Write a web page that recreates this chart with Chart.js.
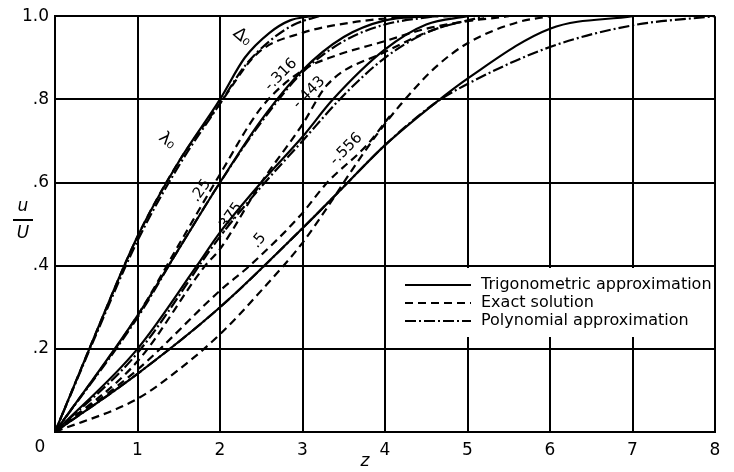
<!DOCTYPE html>
<html>
<head>
<meta charset="utf-8">
<script src="https://cdn.jsdelivr.net/npm/chart.js@4/dist/chart.umd.min.js"></script>
<style>
  html, body { margin: 0; padding: 0; background: #fff; }
  #wrap { width: 734px; height: 472px; }
</style>
</head>
<body>
<div id="wrap"><canvas id="c"></canvas></div>
<script>
// lambda0 = 0
var zTrig0 = [0, 0.5, 1, 1.5, 2, 2.3, 2.6, 2.85, 3.1];
var uTrig0 = [0, 0.24, 0.47, 0.65, 0.8, 0.9, 0.96, 0.99, 1.0];
var zExact0 = [0, 0.5, 1, 1.5, 2, 2.45, 3, 3.6, 4.2, 4.8];
var uExact0 = [0, 0.24, 0.47, 0.65, 0.79, 0.91, 0.96, 0.985, 0.997, 1.0];
var zPoly0 = [0, 0.5, 1, 1.5, 2, 2.3, 2.6, 2.9, 3.2];
var uPoly0 = [0, 0.235, 0.46, 0.64, 0.79, 0.88, 0.94, 0.98, 1.0];

// lambda0 = .25
var zTrig1 = [0, 1, 1.5, 2, 2.5, 3, 3.5, 4, 4.5];
var uTrig1 = [0, 0.28, 0.44, 0.6, 0.75, 0.87, 0.95, 0.99, 1.0];
var zExact1 = [0, 1, 1.5, 2, 2.5, 3, 3.4, 4, 4.5, 5.2];
var uExact1 = [0, 0.28, 0.45, 0.62, 0.78, 0.87, 0.905, 0.94, 0.97, 0.995];
var zPoly1 = [0, 1, 1.5, 2, 2.5, 3, 3.5, 4, 4.6];
var uPoly1 = [0, 0.275, 0.44, 0.6, 0.745, 0.865, 0.94, 0.98, 1.0];

// lambda0 = .375
var zTrig2 = [0, 1, 1.72, 2, 2.5, 3, 3.37, 4, 4.5, 5];
var uTrig2 = [0, 0.2, 0.4, 0.48, 0.6, 0.71, 0.8, 0.92, 0.98, 1.0];
var zExact2 = [0, 1, 1.82, 2, 2.5, 3, 3.3, 4, 4.75, 5.5];
var uExact2 = [0, 0.17, 0.4, 0.44, 0.6, 0.74, 0.835, 0.914, 0.978, 1.0];
var zPoly2 = [0, 1, 2, 2.5, 3, 3.5, 4, 4.5, 5.2];
var uPoly2 = [0, 0.19, 0.47, 0.59, 0.7, 0.81, 0.9, 0.96, 1.0];

// lambda0 = .5
var zTrig3 = [0, 1, 2, 3, 3.5, 4, 4.6, 5, 6, 7];
var uTrig3 = [0, 0.14, 0.3, 0.49, 0.59, 0.69, 0.79, 0.85, 0.97, 1.0];
var zExact3 = [0, 1, 1.5, 2, 2.5, 3, 3.3, 3.6, 3.9, 4.2, 4.6, 5, 5.6, 6];
var uExact3 = [0, 0.08, 0.15, 0.235, 0.34, 0.455, 0.54, 0.63, 0.715, 0.79, 0.875, 0.935, 0.985, 1.0];
var zExact3b = [0, 1, 2, 2.36, 2.97, 3.3, 3.78, 4.06];
var uExact3b = [0, 0.15, 0.34, 0.4, 0.52, 0.6, 0.69, 0.76];
var zPoly3 = [0, 1, 2, 3, 3.5, 4, 4.6, 5, 6, 7, 8];
var uPoly3 = [0, 0.14, 0.3, 0.49, 0.59, 0.69, 0.79, 0.837, 0.926, 0.978, 1.0];

var xTicks = [0, 1, 2, 3, 4, 5, 6, 7, 8];
var yTicks = [0, 0.2, 0.4, 0.6, 0.8, 1.0];

var legendLabels = ['Trigonometric approximation', 'Exact solution', 'Polynomial approximation'];
var curveLabels = [
  { text: '\u03bb\u2080', z: 1.36, u: 0.7, rot: 40, size: 17 },
  { text: '\u0394\u2080', z: 2.27, u: 0.95, rot: 40, size: 17 },
  { text: '.25', z: 1.77, u: 0.58, rot: -55, size: 15 },
  { text: '.375', z: 2.12, u: 0.515, rot: -55, size: 15 },
  { text: '.5', z: 2.47, u: 0.46, rot: -50, size: 15 },
  { text: '-.316', z: 2.74, u: 0.859, rot: -45, size: 15 },
  { text: '-.443', z: 3.08, u: 0.816, rot: -45, size: 15 },
  { text: '-.556', z: 3.53, u: 0.68, rot: -45, size: 15 }
];

var DASH_TRIG = [];
var DASH_EXACT = [8, 5];
var DASH_POLY = [11, 3, 2, 3];

function pts(zs, us) {
  return zs.map(function(z, i) { return { x: z, y: us[i] }; });
}

function line(zs, us, dash) {
  return {
    data: pts(zs, us),
    showLine: true,
    borderColor: '#000',
    borderWidth: 2.2,
    borderDash: dash,
    pointRadius: 0,
    cubicInterpolationMode: 'monotone',
    fill: false
  };
}

var FONT = '"DejaVu Sans", sans-serif';

var extras = {
  id: 'extras',
  afterDatasetsDraw: function(chart) {
    var ctx = chart.ctx;
    var xs = chart.scales.x, ys = chart.scales.y;
    ctx.save();

    // legend box
    ctx.fillStyle = '#fff';
    ctx.fillRect(400, 268, 314, 69);
    ctx.strokeStyle = '#000';
    ctx.lineWidth = 2;
    var dashes = [DASH_TRIG, DASH_EXACT, DASH_POLY];
    ctx.font = '16px ' + FONT;
    ctx.fillStyle = '#000';
    ctx.textBaseline = 'middle';
    for (var i = 0; i < 3; i++) {
      var yy = 285 + i * 18;
      ctx.setLineDash(dashes[i]);
      ctx.beginPath();
      ctx.moveTo(405, yy);
      ctx.lineTo(471, yy);
      ctx.stroke();
      ctx.fillText(legendLabels[i], 481, yy);
    }
    ctx.setLineDash([]);

    // curve labels
    ctx.textAlign = 'center';
    curveLabels.forEach(function(l) {
      ctx.save();
      ctx.font = l.size + 'px ' + FONT;
      ctx.translate(xs.getPixelForValue(l.z), ys.getPixelForValue(l.u));
      ctx.rotate(l.rot * Math.PI / 180);
      ctx.fillText(l.text, 0, 0);
      ctx.restore();
    });

    // corner zero
    ctx.font = '17px ' + FONT;
    ctx.fillText('0', 40, 448);

    // axis titles
    ctx.font = 'italic 17px ' + FONT;
    ctx.fillText('u', 23, 207);
    ctx.fillText('U', 23, 234);
    ctx.beginPath();
    ctx.moveTo(13, 220);
    ctx.lineTo(33, 220);
    ctx.stroke();
    ctx.fillText('z', 365, 462);
    ctx.restore();
  }
};

new Chart(document.getElementById('c'), {
  type: 'scatter',
  plugins: [extras],
  data: {
    datasets: [
      line(zTrig0, uTrig0, DASH_TRIG),
      line(zExact0, uExact0, DASH_EXACT),
      line(zPoly0, uPoly0, DASH_POLY),
      line(zTrig1, uTrig1, DASH_TRIG),
      line(zExact1, uExact1, DASH_EXACT),
      line(zPoly1, uPoly1, DASH_POLY),
      line(zTrig2, uTrig2, DASH_TRIG),
      line(zExact2, uExact2, DASH_EXACT),
      line(zPoly2, uPoly2, DASH_POLY),
      line(zTrig3, uTrig3, DASH_TRIG),
      line(zExact3, uExact3, DASH_EXACT),
      line(zExact3b, uExact3b, DASH_EXACT),
      line(zPoly3, uPoly3, DASH_POLY)
    ]
  },
  options: {
    responsive: true,
    maintainAspectRatio: false,
    animation: false,
    layout: { padding: { top: 14, right: 19, left: 0, bottom: 0 } },
    plugins: {
      legend: { display: false },
      tooltip: { enabled: false }
    },
    scales: {
      x: {
        type: 'linear',
        min: 0,
        max: 8,
        afterFit: function(s) { s.height = 40; },
        afterBuildTicks: function(s) { s.ticks = xTicks.map(function(v) { return { value: v }; }); },
        grid: { color: '#000', lineWidth: 2, drawTicks: false },
        border: { color: '#000', width: 2 },
        ticks: {
          padding: 8,
          color: '#000',
          font: { family: FONT, size: 17 },
          callback: function(v) { return v === 0 ? '' : String(v); }
        }
      },
      y: {
        type: 'linear',
        min: 0,
        max: 1,
        afterFit: function(s) { s.width = 55; },
        afterBuildTicks: function(s) { s.ticks = yTicks.map(function(v) { return { value: v }; }); },
        grid: { color: '#000', lineWidth: 2, drawTicks: false },
        border: { color: '#000', width: 2 },
        ticks: {
          padding: 6,
          color: '#000',
          font: { family: FONT, size: 17 },
          callback: function(v) {
            if (v === 0) return '';
            if (v === 1) return '1.0';
            return v.toFixed(1).replace('0.', '.');
          }
        }
      }
    }
  }
});
</script>
</body>
</html>
